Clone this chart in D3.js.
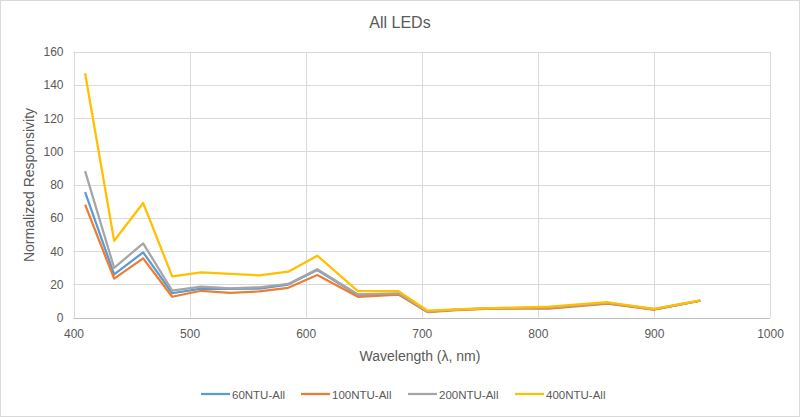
<!DOCTYPE html>
<html><head><meta charset="utf-8">
<script src="https://cdn.jsdelivr.net/npm/d3@7"></script>
<style>body{margin:0;background:#fff}svg{display:block}text{font-family:"Liberation Sans Narrow","Liberation Sans",Arial,sans-serif}</style>
</head><body>
<svg id="c" width="800" height="417"></svg>
<script>
const wavelengths = [410,435,460,485,510,535,560,585,610,645,680,705,730,760,810,860,900,940];
const s60  = [75.6,26,39.3,14.7,17.5,17.3,17.5,19.9,28.7,13.7,14.3,3.6,4.8,5.6,6.0,8.8,5.0,10.2];
const s100 = [68,23.5,35.7,12.6,16.2,15,15.8,18,25.7,12.6,13.9,3.4,4.6,5.4,5.5,8.5,4.9,10.2];
const s200 = [88.2,30,44.7,16.3,18.7,17.7,18.3,20.3,29.1,14,14.7,3.7,4.9,5.7,6.1,8.9,5.1,10.3];
const s400 = [147,46.3,69,24.9,27.3,26.3,25.5,27.7,37.3,16,16,4.2,5,5.7,6.6,9.3,5.3,10.4];
const seriesNames = ["60NTU-All","100NTU-All","200NTU-All","400NTU-All"];
const colors = ["#5B9BD5","#ED7D31","#A5A5A5","#FFC000"];
const xTicks = [400,500,600,700,800,900,1000];
const yTicks = [0,20,40,60,80,100,120,140,160];

const svg = d3.select("#c");
svg.append("rect").attr("x",0.5).attr("y",0.5).attr("width",799).attr("height",416).attr("fill","#fff").attr("stroke","#d9d9d9");

const x = d3.scaleLinear().domain([400,1000]).range([73.5,770]);
const y = d3.scaleLinear().domain([0,160]).range([317.7,51.7]);

svg.append("g").selectAll("line").data(yTicks).join("line")
  .attr("x1",x(400)).attr("x2",x(1000)).attr("y1",d=>Math.round(y(d))+0.5).attr("y2",d=>Math.round(y(d))+0.5)
  .attr("stroke","#d9d9d9").attr("stroke-width",1);
svg.append("g").selectAll("line").data(xTicks).join("line")
  .attr("y1",y(0)).attr("y2",y(160)).attr("x1",d=>Math.round(x(d))+0.5).attr("x2",d=>Math.round(x(d))+0.5)
  .attr("stroke","#d9d9d9").attr("stroke-width",1);

const xa = svg.append("g").attr("transform",`translate(0,${y(0)})`)
  .call(d3.axisBottom(x).tickValues(xTicks).tickFormat(d3.format("d")).tickSize(0).tickPadding(12));
const ya = svg.append("g").attr("transform",`translate(${x(400)},0)`)
  .call(d3.axisLeft(y).tickValues(yTicks).tickFormat(d3.format("d")).tickSize(0).tickPadding(10));
[xa,ya].forEach(g=>{g.select(".domain").remove();
  g.selectAll("text").attr("fill","#595959").style("font-size","12px");});
svg.append("line").attr("x1",x(400)).attr("x2",x(1000)).attr("y1",Math.round(y(0))+0.5).attr("y2",Math.round(y(0))+0.5).attr("stroke","#bfbfbf");

const allSeries = [s60,s100,s200,s400];
const line = d3.line().x((d,i)=>x(wavelengths[i])).y(d=>y(d));
allSeries.forEach((s,k)=>{
  svg.append("path").datum(s).attr("d",line).attr("fill","none")
    .attr("stroke",colors[k]).attr("stroke-width",2.25).attr("stroke-linejoin","round");
});

svg.append("text").attr("x",400).attr("y",28).attr("text-anchor","middle")
  .attr("fill","#595959").style("font-size","16px").text("All LEDs");
svg.append("text").attr("x",420).attr("y",361).attr("text-anchor","middle")
  .attr("fill","#595959").style("font-size","14px").text("Wavelength (λ, nm)");
svg.append("text").attr("transform","translate(34,185) rotate(-90)").attr("text-anchor","middle")
  .attr("fill","#595959").style("font-size","14px").text("Normalized Responsivity");

const legX = [201,301,408,515];
const lg = svg.append("g");
seriesNames.forEach((n,k)=>{
  lg.append("line").attr("x1",legX[k]).attr("x2",legX[k]+29).attr("y1",394).attr("y2",394)
    .attr("stroke",colors[k]).attr("stroke-width",2.25);
  lg.append("text").attr("x",legX[k]+31).attr("y",398.5).attr("fill","#595959").style("font-size","11.5px").text(n);
});
</script>
</body></html>
